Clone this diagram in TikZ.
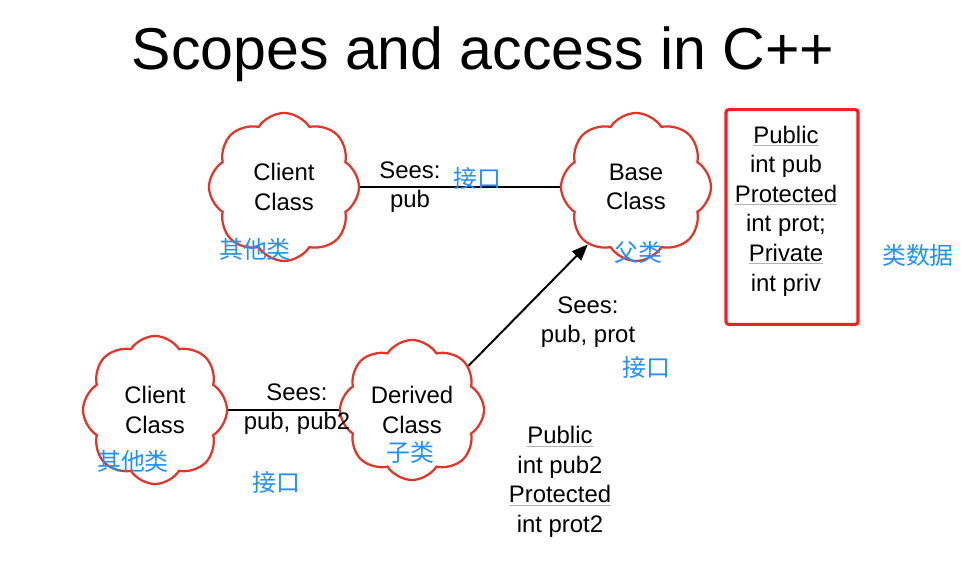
\documentclass[tikz,border=0pt]{standalone}
\usepackage{fontspec}
\setmainfont{Liberation Sans}
\newfontfamily\cjk{Noto Sans CJK SC}
\usetikzlibrary{shapes.symbols, arrows.meta, positioning}
\definecolor{cloudred}{RGB}{228,52,40}
\definecolor{boxred}{RGB}{250,30,30}
\definecolor{noteblue}{RGB}{30,144,255}
\newcommand{\hdr}[1]{{\color{black!30}\underline{\color{black}#1}}}

\begin{document}
\begin{tikzpicture}[
    x=0.025cm, y=-0.025cm,
    font=\fontsize{17}{21}\selectfont,
    cls/.style={cloud, cloud puffs=8, cloud puff arc=115, cloud ignores aspect, draw=cloudred, line width=1.6pt, fill=white, align=center, minimum width=3.75cm, minimum height=3.7cm, inner sep=0pt},
    sees/.style={align=center, inner sep=0pt},
    members/.style={align=center, inner sep=0pt},
    note/.style={font=\cjk\fontsize{17}{20}\selectfont, text=noteblue, inner sep=0pt},
    link/.style={line width=1.4pt},
    arrow/.style={-{Triangle[length=0.4cm,width=0.32cm]}, line width=1.4pt}
]
\useasboundingbox (0,0) rectangle (966,583);

% Title
\node[font=\fontsize{42}{48}\selectfont] (title) at (483,54) {Scopes and access in C++};

% Classes drawn as clouds
\node[cls] (client) at (284,187) {Client\\Class};
\node[cls] (base) at (636,187) {Base\\Class};
\node[cls, minimum width=3.6cm] (client2) at (155,410) {Client\\Class};
\node[cls, minimum width=3.6cm, minimum height=3.5cm] (derived) at (412,410) {Derived\\Class};

% Class data boxes
\node[members, draw=boxred, line width=2.2pt, rounded corners=2pt, minimum width=3.3cm, minimum height=5.37cm] (basedata) at (792,217) {};
\node[members] (basetext) at (786,211) {\hdr{Public}\\int pub\\\hdr{Protected}\\int prot;\\\hdr{Private}\\int priv};
\node[members] (derivedtext) at (560,482) {\hdr{Public}\\int pub2\\\hdr{Protected}\\int prot2};

% Connectors
\draw[link] (client) -- (base);
\draw[link] (client2) -- (derived);
\draw[arrow] (derived.38) -- (base.230);

% What each one sees
\node[sees] (sees1) at (410,187) {Sees:\\pub};
\node[sees] (sees2) at (588,322) {Sees:\\pub, prot};
\node[sees] (sees3) at (297,409) {Sees:\\pub, pub2};

% Blue notes
\node[note] (if1) at (477,178) {接口};
\node[note] (other1) at (255,249) {其他类};
\node[note] (parent) at (638,252) {父类};
\node[note] (data) at (918,255) {类数据};
\node[note] (if2) at (646,367) {接口};
\node[note] (other2) at (133,461) {其他类};
\node[note] (child) at (410,452) {子类};
\node[note] (if3) at (276,482) {接口};
\end{tikzpicture}
\end{document}
